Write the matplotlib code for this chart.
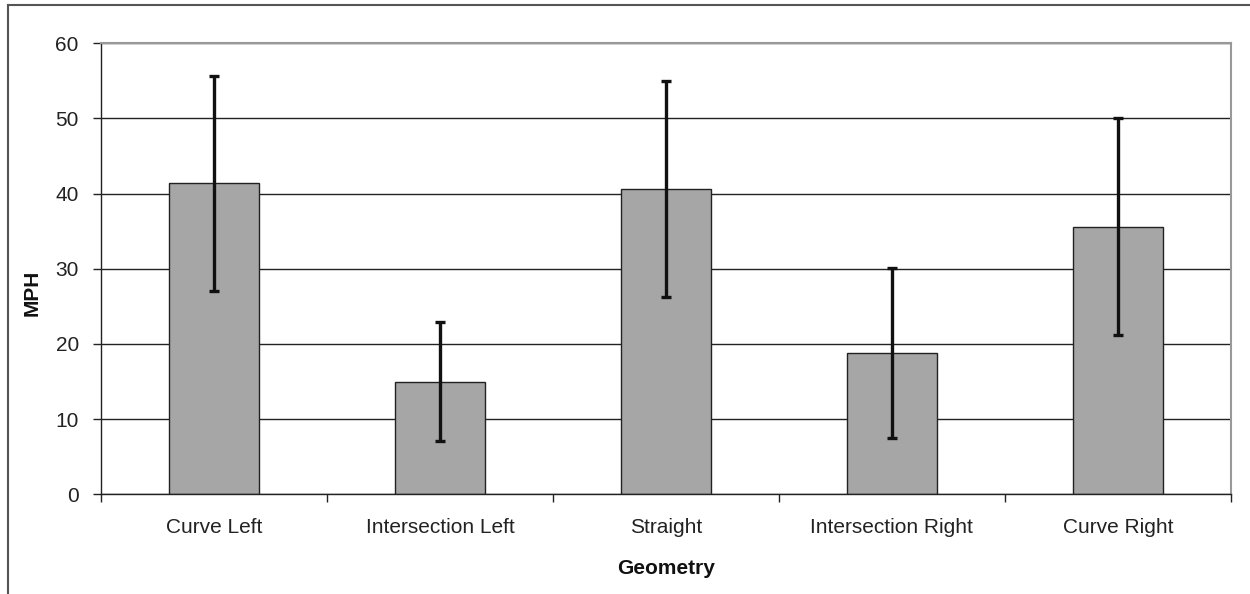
"""
Mean speed by road geometry, Excel-style bar chart with error bars.
"""

import matplotlib

matplotlib.use("Agg")
import matplotlib.pyplot as plt
import numpy as np
from matplotlib.lines import Line2D

categories = ["Curve Left", "Intersection Left", "Straight", "Intersection Right", "Curve Right"]
mean_mph = [41.4, 15.0, 40.6, 18.8, 35.6]
err_mph = [14.3, 7.95, 14.4, 11.3, 14.45]
y_ticks = [0, 10, 20, 30, 40, 50, 60]

plt.rcParams["font.family"] = ["Liberation Sans", "DejaVu Sans"]

fig = plt.figure(figsize=(12.5, 5.94), dpi=100)
ax = fig.add_axes([0.0808, 0.1678, 0.9038, 0.7593])

x = np.arange(len(categories))
ax.bar(x, mean_mph, width=0.4, color="#a6a6a6", edgecolor="#222222", linewidth=1.0, zorder=2)
ax.errorbar(
    x,
    mean_mph,
    yerr=err_mph,
    fmt="none",
    ecolor="#111111",
    elinewidth=2.4,
    capsize=3.7,
    capthick=2.4,
    zorder=3,
)

ax.set_xlim(-0.5, len(categories) - 0.5)
ax.set_ylim(0, 60)
ax.set_yticks(y_ticks)
ax.set_yticklabels([str(v) for v in y_ticks], fontsize=15, color="#222222")
ax.grid(axis="y", color="#222222", linewidth=1.0, zorder=1)
ax.set_axisbelow(True)

# category labels at centres, tick marks on the boundaries
ax.set_xticks(x)
ax.set_xticklabels(categories, fontsize=15, color="#222222")
ax.tick_params(axis="x", which="major", length=0, pad=17)
ax.set_xticks(np.arange(-0.5, len(categories)), minor=True)
ax.tick_params(axis="x", which="minor", length=6, width=1.0, color="#222222", direction="out")
ax.tick_params(axis="y", length=6, width=1.0, color="#222222", direction="out", pad=10)

for side in ["left", "bottom"]:
    ax.spines[side].set_color("#222222")
    ax.spines[side].set_linewidth(1.0)
for side in ["top", "right"]:
    ax.spines[side].set_color("#999999")
    ax.spines[side].set_linewidth(1.5)

fig.text(0.5328, 1 - 569 / 594, "Geometry", fontsize=15, fontweight="bold",
         ha="center", va="center", color="#111111")
fig.text(32 / 1250, 1 - 293 / 594, "MPH", fontsize=15, fontweight="bold",
         rotation=90, ha="center", va="center", color="#111111")

# outer chart frame (cropped at right and bottom)
fig.add_artist(Line2D([8 / 1250, 1.0], [1 - 5 / 594, 1 - 5 / 594], color="#555555", linewidth=1.5))
fig.add_artist(Line2D([8 / 1250, 8 / 1250], [0.0, 1 - 5 / 594], color="#555555", linewidth=1.5))

fig.savefig("out.png", dpi=100)
plt.close(fig)
